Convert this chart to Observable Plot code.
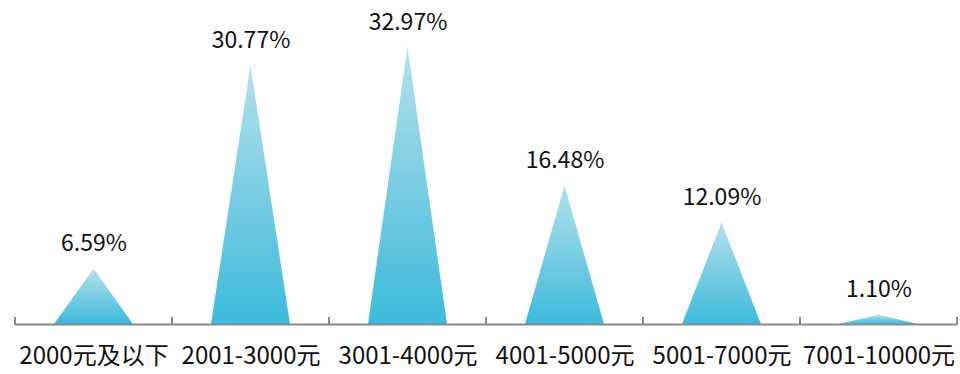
<!DOCTYPE html>
<html><head><meta charset="utf-8">
<script src="https://cdn.jsdelivr.net/npm/d3@7"></script>
<script src="https://cdn.jsdelivr.net/npm/@observablehq/plot@0.6"></script>
<style>body{margin:0;background:#fff}</style>
</head><body><div id="chart"></div>
<script>
const categories = ["2000元及以下","2001-3000元","3001-4000元","4001-5000元","5001-7000元","7001-10000元"];
const values = [6.59, 30.77, 32.97, 16.48, 12.09, 1.10];
const valueLabels = ["6.59%","30.77%","32.97%","16.48%","12.09%","1.10%"];
const data = categories.map((c, i) => ({category: c, value: values[i], label: valueLabels[i]}));

const plot = Plot.plot({
  width: 960, height: 374,
  marginLeft: 15, marginRight: 3, marginTop: 30, marginBottom: 50,
  style: {fontFamily: '"Noto Sans CJK SC", "Open Sans", sans-serif', fontSize: "24px", color: "#111", background: "#fff"},
  x: {domain: categories, padding: 0, label: null, tickSize: 0, tickPadding: 22},
  y: {domain: [0, 35], axis: null},
  marks: [
    Plot.barY(data, {x: "category", y: "value", insetLeft: 39, insetRight: 39, fill: "#3dbcdc"}),
    Plot.ruleY([0], {stroke: "#8a8a8a", strokeWidth: 2}),
    Plot.text(data, {x: "category", y: "value", text: "label", dy: -18, lineAnchor: "bottom", fontSize: 23, fill: "#111"})
  ]
});
document.getElementById("chart").appendChild(plot);

const svg = d3.select(plot);
const defs = svg.insert("defs", ":first-child");
const grad = defs.append("linearGradient").attr("id", "tri-grad").attr("x1", 0).attr("y1", 0).attr("x2", 0).attr("y2", 1);
grad.append("stop").attr("offset", "0%").attr("stop-color", "#b4e1ec");
grad.append("stop").attr("offset", "55%").attr("stop-color", "#74cbe2");
grad.append("stop").attr("offset", "100%").attr("stop-color", "#3cbbdb");

svg.selectAll('g[aria-label="bar"] rect').each(function() {
  const r = d3.select(this);
  const x = +r.attr("x"), y = +r.attr("y"), w = +r.attr("width"), h = +r.attr("height");
  const g = d3.select(this.parentNode);
  g.append("path")
    .attr("d", `M${x},${y + h}L${x + w / 2},${y}L${x + w},${y + h}Z`)
    .attr("fill", "url(#tri-grad)");
  r.remove();
});

const xs = plot.scale("x"), ys = plot.scale("y");
const y0 = ys.apply(0);
const edges = categories.map(c => xs.apply(c)).concat([xs.apply(categories[categories.length - 1]) + xs.bandwidth]);
const tg = svg.append("g").attr("stroke", "#8a8a8a").attr("stroke-width", 2);
edges.forEach(e => {
  tg.append("line").attr("x1", e).attr("x2", e).attr("y1", y0 - 7).attr("y2", y0 + 1);
});
</script>
</body></html>
